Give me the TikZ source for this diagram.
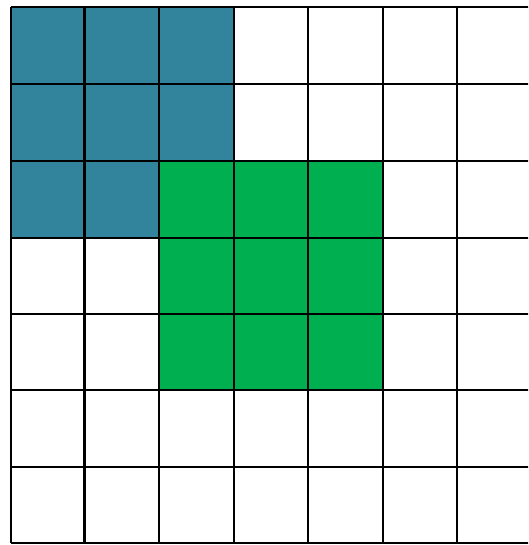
\documentclass[tikz,border=0pt]{standalone}
\definecolor{tealblue}{RGB}{49,132,155}
\definecolor{cellgreen}{RGB}{0,176,80}
\tikzset{
  gridline/.style={line width=2.2pt, black},
  bluecell/.style={fill=tealblue},
  greencell/.style={fill=cellgreen}
}
\begin{document}
\begin{tikzpicture}[x=1pt,y=-1pt]
\useasboundingbox (0,0) rectangle (528,545);
\clip (0,0) rectangle (528,545);
\def\cx{{11,84.5,159,234,308,383,457,531.5}}
\def\ry{{7,84,161,238,314,390,467,543}}
% blue cells
\foreach \r/\c in {0/0,0/1,0/2,1/0,1/1,1/2,2/0,2/1}{
  \pgfmathsetmacro\xa{\cx[\c]}\pgfmathsetmacro\xb{\cx[\c+1]}
  \pgfmathsetmacro\ya{\ry[\r]}\pgfmathsetmacro\yb{\ry[\r+1]}
  \fill[bluecell] (\xa,\ya) rectangle (\xb,\yb);
}
% green cells
\foreach \r/\c in {2/2,2/3,2/4,3/2,3/3,3/4,4/2,4/3,4/4}{
  \pgfmathsetmacro\xa{\cx[\c]}\pgfmathsetmacro\xb{\cx[\c+1]}
  \pgfmathsetmacro\ya{\ry[\r]}\pgfmathsetmacro\yb{\ry[\r+1]}
  \fill[greencell] (\xa,\ya) rectangle (\xb,\yb);
}
% vertical lines
\foreach \x in {11,84.5,159,234,308,383,457}{
  \draw[gridline] (\x,7) -- (\x,543);
}
% horizontal lines
\foreach \y in {7,84,161,238,314,390,467,543}{
  \draw[gridline] (11,\y) -- (540,\y);
}
\end{tikzpicture}
\end{document}
